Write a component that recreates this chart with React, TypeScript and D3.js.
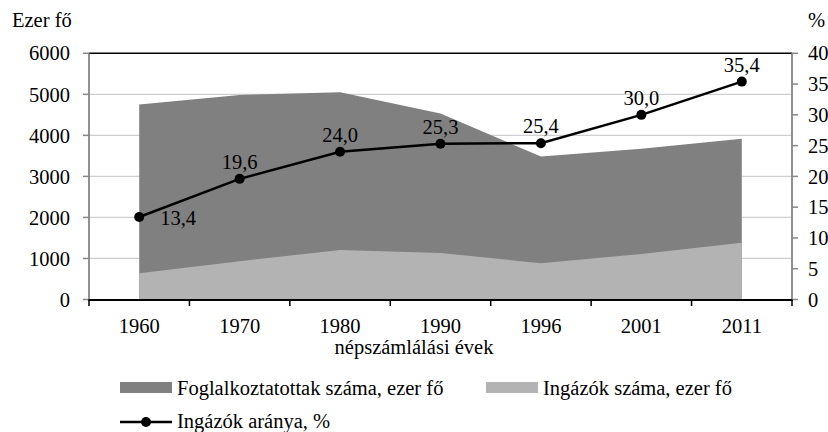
import React from 'react';
import * as d3 from 'd3';

const years = ['1960', '1970', '1980', '1990', '1996', '2001', '2011'];
const employed = [4750, 4985, 5050, 4530, 3485, 3675, 3915];
const commuters = [637, 935, 1205, 1135, 882, 1110, 1382];
const ratio = [13.4, 19.6, 24.0, 25.3, 25.4, 30.0, 35.4];
const leftTicks = [0, 1000, 2000, 3000, 4000, 5000, 6000];
const rightTicks = [0, 5, 10, 15, 20, 25, 30, 35, 40];

const font = "'Liberation Serif', 'Times New Roman', serif";
const dark = '#808080';
const light = '#b3b3b3';
const axisGray = '#868686';

export default function App() {
  const left = 89, right = 792, top = 53.3, bottom = 299.5;

  const x = d3.scaleBand().domain(years).range([left, right]);
  const cx = (y: string) => (x(y) as number) + x.bandwidth() / 2;
  const yL = d3.scaleLinear().domain([0, 6000]).range([bottom, top]);
  const yR = d3.scaleLinear().domain([0, 40]).range([bottom, top]);

  const area = d3.area<number>()
    .x((d, i) => cx(years[i]))
    .y0(yL(0))
    .y1(d => yL(d));
  const line = d3.line<number>()
    .x((d, i) => cx(years[i]))
    .y(d => yR(d));

  const fmt = (v: number) => v.toFixed(1).replace('.', ',');
  const ts = { fontFamily: font, fontSize: '20.5px' };

  return (
    <svg width={828} height={432} style={{ position: 'absolute', left: 0, top: 0 }}>
      <rect width={828} height={432} fill="#fff" />
      {/* gridlines */}
      {leftTicks.slice(1, -1).map(t => (
        <line key={t} x1={left} x2={right} y1={yL(t)} y2={yL(t)} stroke="#cfcfcf" strokeWidth={1.2} />
      ))}
      {/* areas */}
      <path d={area(employed) || ''} fill={dark} />
      <path d={area(commuters) || ''} fill={light} />
      {/* frame lines */}
      <line x1={left} x2={right} y1={top} y2={top} stroke="#000" strokeWidth={1.5} />
      <line x1={left} x2={left} y1={top} y2={bottom} stroke={axisGray} strokeWidth={1.8} />
      <line x1={right} x2={right} y1={top} y2={bottom} stroke={axisGray} strokeWidth={1.8} />
      <line x1={left - 1} x2={right + 1} y1={bottom + 0.5} y2={bottom + 0.5} stroke="#000" strokeWidth={2.2} />
      {/* left axis */}
      {leftTicks.map(t => (
        <g key={t}>
          <line x1={left - 6} x2={left} y1={yL(t)} y2={yL(t)} stroke={axisGray} strokeWidth={1.5} />
          <text x={70} y={yL(t)} dy="0.35em" textAnchor="end" style={ts}>{t}</text>
        </g>
      ))}
      {/* right axis */}
      {rightTicks.map(t => (
        <g key={t}>
          <line x1={right} x2={right + 6} y1={yR(t)} y2={yR(t)} stroke={axisGray} strokeWidth={1.5} />
          <text x={808} y={yR(t)} dy="0.35em" style={ts}>{t}</text>
        </g>
      ))}
      {/* x axis ticks */}
      {years.map(y => (
        <line key={y} x1={x(y) as number} x2={x(y) as number} y1={bottom} y2={bottom + 6.5} stroke="#000" strokeWidth={1.5} />
      ))}
      <line x1={right} x2={right} y1={bottom} y2={bottom + 6.5} stroke="#000" strokeWidth={1.5} />
      {years.map(y => (
        <text key={y} x={cx(y)} y={332.5} textAnchor="middle" style={ts}>{y}</text>
      ))}
      <text x={414} y={353.5} textAnchor="middle" style={ts}>népszámlálási évek</text>
      <text x={12} y={27} style={ts}>Ezer fő</text>
      <text x={808} y={27} style={ts}>%</text>
      {/* ratio line */}
      <path d={line(ratio) || ''} fill="none" stroke="#000" strokeWidth={2.5} />
      {ratio.map((v, i) => (
        <circle key={i} cx={cx(years[i])} cy={yR(v)} r={5} fill="#000" />
      ))}
      {ratio.map((v, i) => i === 0 ? (
        <text key={i} x={cx(years[i]) + 21} y={yR(v) + 8} style={ts}>{fmt(v)}</text>
      ) : (
        <text key={i} x={cx(years[i])} y={yR(v) - 10} textAnchor="middle" style={ts}>{fmt(v)}</text>
      ))}
      {/* legend */}
      <rect x={120} y={382} width={52} height={11} fill={dark} />
      <text x={177} y={394.5} style={ts}>Foglalkoztatottak száma, ezer fő</text>
      <rect x={486} y={382} width={52} height={11} fill={light} />
      <text x={543} y={394.5} style={ts}>Ingázók száma, ezer fő</text>
      <line x1={120} x2={172} y1={422} y2={422} stroke="#000" strokeWidth={2.5} />
      <circle cx={146} cy={422} r={5} fill="#000" />
      <text x={177} y={427.5} style={ts}>Ingázók aránya, %</text>
    </svg>
  );
}
